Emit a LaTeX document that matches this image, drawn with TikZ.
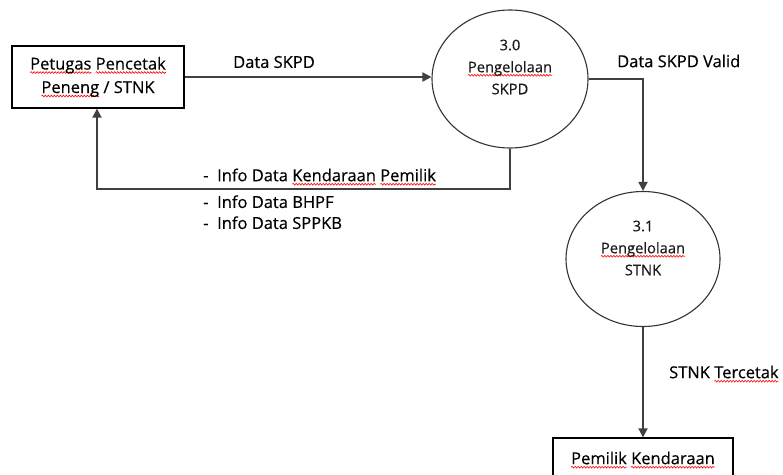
\documentclass[tikz,border=0pt]{standalone}
\usepackage{fontspec}
\setmainfont{Open Sans}
\newfontfamily\labelfont{Open Sans}[FakeBold=0.35]
\usetikzlibrary{arrows.meta,decorations.pathmorphing,shapes.geometric}

% wavy red underline under a word (spell-check mark)
\newlength\sqlen
\newcommand\sq[1]{\settowidth\sqlen{#1}\rlap{\tikz[overlay,baseline=0pt]\draw[red,line width=0.6pt,decorate,decoration={snake,segment length=3pt,amplitude=0.9pt}] (0pt,-3pt) -- (\sqlen,-3pt);}#1}

\begin{document}
\begin{tikzpicture}[x=1pt,y=-1pt,
  lbl/.style={font=\labelfont\fontsize{16.5}{23}\selectfont, inner sep=0pt, text=black},
  proc/.style={ellipse, draw=black!80, line width=1.1pt, inner sep=0pt},
  ptxt/.style={font=\labelfont\fontsize{14.7}{22}\selectfont, align=center, inner sep=0pt, text=black!90},
  ent/.style={rectangle, draw=black, line width=1.3pt, align=center, font=\labelfont\fontsize{16.5}{23.5}\selectfont, inner sep=0pt, text=black},
  flow/.style={draw=black!75, line width=1.8pt, -{Triangle[length=9pt,width=9pt]}}]

\useasboundingbox (0,0) rectangle (783,474);

% external entities
\node[ent, minimum width=172, minimum height=62] (pt) at (98,77) {\sq{Petugas} \sq{Pencetak}\\\sq{Peneng} / STNK};
\node[ent, minimum width=180, minimum height=40] (pk) at (643,458) {\sq{Pemilik} \sq{Kendaraan}};

% processes
\node[proc, minimum width=156, minimum height=138] (c30) at (510,79) {};
\node[ptxt] (t30) at (510,67) {3.0\\\sq{Pengelolaan}\\SKPD};
\node[proc, minimum width=154, minimum height=135] (c31) at (643,259) {};
\node[ptxt] (t31) at (643,248) {3.1\\\sq{Pengelolaan}\\STNK};

% flow labels
\node[lbl, anchor=west] (l1) at (233,62) {Data SKPD};
\node[lbl, anchor=west] (l2) at (617,61) {Data SKPD Valid};
\node[lbl, anchor=west] (l3) at (203,175) {\makebox[14pt][l]{-}Info Data \sq{Kendaraan} \sq{Pemilik}};
\node[lbl, anchor=west] (l4) at (203,201.7) {\makebox[14pt][l]{-}Info Data BHPF};
\node[lbl, anchor=west] (l5) at (203,222.7) {\makebox[14pt][l]{-}Info Data SPPKB};
\node[lbl, anchor=west] (l6) at (669,372) {STNK \sq{Tercetak}};

% data flows
\coordinate (bk) at (97,189);
\draw[flow] (pt.east) -- (pt.east -| c30.west);
\draw[flow] (c30.east) -| (c31.north);
\draw[flow] (c30.south) |- (bk) -- (pt.south -| bk);
\draw[flow] (c31.south) -- (pk.north);
\end{tikzpicture}
\end{document}
